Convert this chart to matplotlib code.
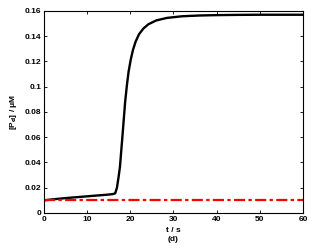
import matplotlib
matplotlib.use("Agg")
import matplotlib.pyplot as plt

# values
t = [0, 2, 5, 10, 15, 16.0, 16.5, 16.9, 17.3, 17.6, 18.2, 18.8, 19.2, 19.6, 20.1, 20.6, 21.2, 22.0, 23.0, 24.2, 26.0, 28.5, 32, 36, 40, 45, 50, 55, 60]
pd = [0.0100, 0.0108, 0.0118, 0.0132, 0.0146, 0.0150, 0.0156, 0.0200, 0.0290, 0.0367, 0.0620, 0.0880, 0.1010, 0.1120, 0.1215, 0.1290, 0.1355, 0.1415, 0.1460, 0.1495, 0.1525, 0.1545, 0.1558, 0.1564, 0.1567, 0.1569, 0.1570, 0.1570, 0.1570]
base_t = [0, 60]
base_v = [0.01, 0.01]

xticks = [0, 10, 20, 30, 40, 50, 60]
yticks = [0, 0.02, 0.04, 0.06, 0.08, 0.1, 0.12, 0.14, 0.16]
ytick_labels = ["0", "0.02", "0.04", "0.06", "0.08", "0.1", "0.12", "0.14", "0.16"]

plt.rcParams["font.family"] = ["Liberation Sans", "DejaVu Sans"]
plt.rcParams["font.weight"] = "bold"

fig = plt.figure(figsize=(3.34, 2.49), dpi=100)
ax = fig.add_axes([0.1317, 0.1446, 0.7755, 0.8114])

ax.plot(t, pd, color="black", lw=1.7)
ax.plot(base_t, base_v, color="#ff0000", lw=1.6, ls=(0, (5, 1.5, 1.5, 1.5)))

ax.set_xlim(0, 60)
ax.set_ylim(0, 0.16)
ax.set_xticks(xticks)
ax.set_yticks(yticks)
ax.set_yticklabels(ytick_labels)
ax.tick_params(direction="in", top=True, right=True, labelsize=6, length=2, width=0.6, pad=2)
for lab in ax.get_xticklabels() + ax.get_yticklabels():
    lab.set_fontweight("bold")
for s in ax.spines.values():
    s.set_linewidth(0.8)

ax.set_xlabel("t / s\n(d)", fontsize=6, fontweight="bold", labelpad=3, linespacing=1.5)
ax.set_ylabel("[P$_\\mathbf{d}$] / \u03bcM", fontsize=6, fontweight="bold", labelpad=4)

fig.savefig("out.png", dpi=100)
